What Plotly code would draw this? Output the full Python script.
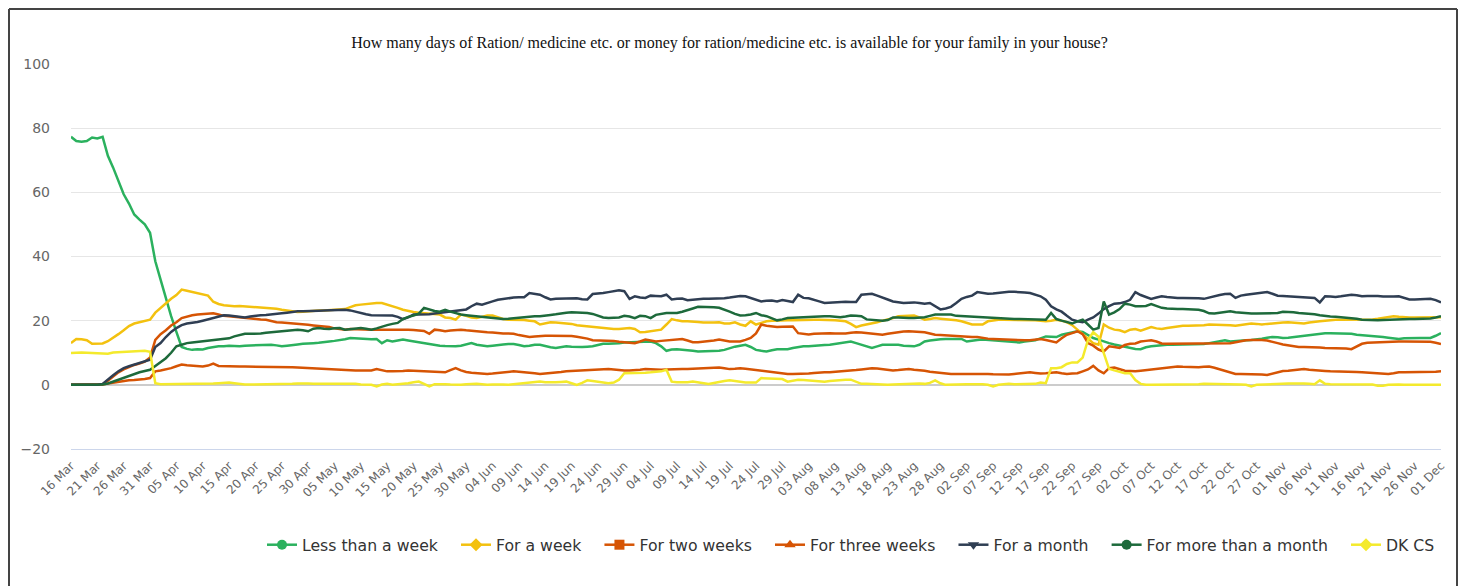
import plotly.graph_objs as go
import pandas as pd

# daily share of respondents (%), 16 Mar - 01 Dec
dates = pd.date_range('2020-03-16', '2020-12-01', freq='D')

less_than_week = [
    77.3, 76.0, 75.8, 76.0, 77.1, 76.8, 77.3, 71.4, 67.7, 63.5,
    59.4, 56.5, 53.1, 51.5, 50.0, 47.4, 38.5, 32.8, 27.0, 21.4,
    16.5, 11.8, 11.2, 10.9, 11.1, 11.0, 11.5, 11.8, 12.0, 12.0,
    12.2, 12.1, 12.0, 12.2, 12.3, 12.2, 12.3, 12.4, 12.5, 12.3,
    12.0, 12.2, 12.5, 12.6, 12.8, 13.0, 13.0, 13.1, 13.2, 13.5,
    13.7, 13.9, 14.2, 14.6, 14.5, 14.3, 14.3, 14.2, 14.3, 13.0,
    13.9, 13.5, 13.8, 14.1, 13.8, 13.5, 13.3, 13.0, 12.8, 12.5,
    12.2, 12.1, 12.0, 12.0, 12.2, 12.6, 13.0, 12.5, 12.2, 12.0,
    12.2, 12.5, 12.6, 12.7, 12.7, 12.4, 12.0, 12.2, 12.5, 12.5,
    12.0, 11.7, 11.5, 11.8, 12.0, 11.9, 11.8, 11.8, 11.9, 12.0,
    12.4, 12.8, 12.8, 12.8, 13.0, 13.2, 13.3, 13.4, 13.5, 13.5,
    13.5, 13.0, 12.0, 10.6, 11.0, 11.1, 11.0, 10.9, 10.6, 10.4,
    10.4, 10.5, 10.4, 10.6, 10.9, 11.5, 11.9, 12.2, 12.5, 11.8,
    10.9, 10.6, 10.4, 10.8, 11.1, 11.1, 11.1, 11.5, 11.8, 12.0,
    12.0, 12.2, 12.3, 12.4, 12.5, 12.7, 13.0, 13.2, 13.5, 13.0,
    12.5, 12.0, 11.5, 12.0, 12.5, 12.5, 12.5, 12.5, 12.2, 12.0,
    12.0, 12.5, 13.5, 13.8, 14.1, 14.2, 14.3, 14.3, 14.3, 14.3,
    13.5, 13.8, 14.0, 14.1, 14.0, 13.9, 13.8, 13.6, 13.4, 13.3,
    13.2, 13.5, 13.7, 13.9, 14.5, 15.1, 15.0, 14.9, 15.6, 16.0,
    16.3, 16.7, 16.5, 15.5, 14.6, 14.1, 13.5, 13.0, 12.6, 12.2,
    11.8, 11.5, 11.2, 11.1, 11.7, 12.0, 12.2, 12.3, 12.5, 12.5,
    12.5, 12.5, 12.5, 12.5, 12.5, 12.7, 13.0, 13.3, 13.6, 13.9,
    13.5, 13.7, 13.9, 13.9, 14.0, 14.1, 14.4, 14.7, 14.9, 14.8,
    14.6, 14.7, 14.9, 15.1, 15.3, 15.6, 15.8, 16.1, 16.1, 16.1,
    16.1, 16.0, 16.0, 15.9, 15.6, 15.5, 15.4, 15.3, 15.1, 14.9,
    14.7, 14.4, 14.3, 14.5, 14.6, 14.6, 14.6, 14.6, 14.6, 15.3, 16.1]

for_a_week = [
    13.0, 14.3, 14.2, 13.9, 12.8, 12.8, 12.9, 13.6, 14.6, 15.8,
    17.0, 18.3, 19.1, 19.5, 19.8, 20.3, 22.5, 24.0, 25.5, 26.8,
    28.0, 29.7, 29.3, 28.9, 28.6, 28.3, 27.8, 25.9, 25.2, 24.8,
    24.6, 24.5, 24.6, 24.5, 24.4, 24.3, 24.2, 24.1, 24.0, 23.7,
    23.4, 23.1, 22.9, 22.7, 22.8, 23.0, 23.1, 23.2, 23.2, 23.3,
    23.2, 23.3, 23.6, 24.2, 24.8, 25.0, 25.2, 25.4, 25.5, 25.5,
    25.0, 24.7, 24.0, 23.4, 23.0, 22.7, 22.5, 22.4, 22.3, 22.0,
    21.9, 21.0, 20.8, 20.3, 21.9, 21.5, 21.0, 20.8, 21.2, 21.6,
    21.6, 21.0, 20.5, 20.3, 20.3, 20.3, 20.2, 20.0, 19.8, 18.8,
    19.2, 19.5, 19.4, 19.3, 19.3, 19.0, 18.6, 18.4, 18.2, 18.0,
    17.8, 17.6, 17.4, 17.4, 17.4, 17.5, 17.7, 17.4, 16.4, 16.5,
    16.7, 16.9, 17.2, 18.8, 20.5, 20.1, 19.8, 19.8, 19.8, 19.6,
    19.4, 19.3, 19.4, 19.5, 19.1, 19.1, 19.5, 18.8, 18.4, 19.8,
    18.8, 19.3, 19.8, 20.0, 20.1, 20.1, 20.1, 20.1, 20.2, 20.3,
    20.3, 20.3, 20.3, 20.3, 20.3, 20.1, 20.0, 19.8, 19.0, 18.0,
    18.5, 18.8, 19.2, 19.5, 20.0, 20.3, 20.8, 21.4, 21.5, 21.6,
    21.6, 21.0, 20.3, 20.5, 20.8, 20.6, 20.5, 20.3, 20.1, 19.8,
    19.2, 18.8, 18.8, 18.8, 19.8, 20.1, 20.3, 20.3, 20.3, 20.3,
    20.3, 20.2, 20.1, 20.1, 20.0, 19.8, 20.0, 20.3, 20.0, 19.5,
    18.6, 17.2, 16.0, 14.5, 13.0, 12.5, 18.8, 17.8, 17.2, 17.0,
    16.4, 17.2, 17.4, 16.9, 17.5, 18.0, 17.6, 17.4, 17.7, 18.0,
    18.2, 18.4, 18.4, 18.4, 18.4, 18.6, 18.8, 18.8, 18.8, 18.8,
    18.6, 18.4, 18.6, 18.9, 19.1, 19.0, 18.8, 19.0, 19.2, 19.3,
    19.4, 19.5, 19.4, 19.2, 19.1, 19.4, 19.7, 19.8, 20.0, 20.2,
    20.3, 20.3, 20.3, 20.4, 20.5, 20.4, 20.3, 20.4, 20.6, 20.8,
    21.0, 21.4, 21.2, 21.0, 21.0, 21.0, 21.0, 21.0, 21.0, 21.1, 21.1]

two_weeks = [
    0.0, 0.0, 0.0, 0.0, 0.0, 0.0, 0.2, 1.3, 2.6, 3.9,
    4.8, 5.6, 6.2, 6.6, 7.2, 8.5, 14.0, 15.8, 17.0, 18.5,
    19.5, 20.8, 21.3, 21.7, 21.9, 22.0, 22.3, 22.3, 21.9, 21.5,
    21.4, 21.2, 21.0, 20.9, 20.8, 20.6, 20.4, 20.3, 19.9, 19.5,
    19.4, 19.3, 19.2, 19.1, 18.8, 18.7, 18.5, 18.4, 18.2, 18.0,
    17.6, 17.3, 17.2, 17.4, 17.3, 17.2, 17.2, 17.2, 17.2, 17.2,
    17.2, 17.3, 17.4, 17.3, 17.2, 17.1, 17.0, 16.8, 15.9, 17.2,
    17.0, 16.7, 16.9, 17.0, 17.2, 17.0, 16.8, 16.7, 16.5, 16.4,
    16.3, 16.1, 16.0, 16.0, 15.9, 15.5, 15.2, 14.9, 15.1, 15.3,
    15.3, 15.3, 15.3, 15.3, 15.3, 15.2, 15.0, 14.8, 14.4, 13.9,
    13.9, 13.9, 13.9, 13.7, 13.4, 13.2, 13.1, 13.0, 13.5, 14.1,
    13.8, 13.5, 13.7, 13.9, 14.0, 14.2, 14.3, 13.8, 13.3, 13.3,
    13.4, 13.5, 13.8, 14.1, 13.8, 13.5, 13.5, 13.5, 14.0, 14.6,
    16.0, 18.8, 18.4, 18.2, 18.0, 18.1, 18.2, 18.2, 16.1, 15.8,
    15.7, 15.9, 16.0, 16.1, 16.1, 16.0, 15.9, 16.0, 16.2, 16.4,
    16.3, 16.1, 15.9, 15.7, 15.6, 15.9, 16.2, 16.4, 16.6, 16.7,
    16.6, 16.5, 16.4, 16.0, 15.6, 15.5, 15.4, 15.3, 15.1, 14.9,
    14.9, 14.9, 14.9, 14.6, 14.4, 14.3, 14.2, 14.1, 14.0, 13.9,
    13.9, 13.9, 13.9, 14.0, 14.3, 14.0, 13.5, 13.2, 14.5, 15.6,
    16.1, 16.7, 15.8, 13.0, 12.2, 11.0, 10.4, 12.0, 11.8, 11.5,
    12.4, 12.8, 12.9, 13.5, 13.7, 13.9, 13.5, 12.9, 12.8, 12.8,
    12.8, 12.8, 12.8, 12.8, 12.9, 13.0, 12.9, 12.8, 12.9, 13.0,
    13.0, 13.3, 13.7, 13.9, 14.0, 14.1, 14.0, 13.8, 13.5, 13.0,
    12.6, 12.3, 12.0, 11.8, 11.8, 11.8, 11.7, 11.6, 11.5, 11.5,
    11.5, 11.5, 11.3, 11.1, 12.0, 12.8, 13.1, 13.2, 13.2, 13.3,
    13.5, 13.5, 13.5, 13.5, 13.5, 13.5, 13.5, 13.5, 13.4, 13.1, 12.7]

three_weeks = [
    0.0, 0.0, 0.0, 0.0, 0.0, 0.0, 0.1, 0.4, 0.7, 1.0,
    1.2, 1.4, 1.5, 1.6, 1.8, 2.1, 4.2, 4.5, 4.8, 5.2,
    5.8, 6.3, 6.1, 5.9, 5.8, 5.7, 6.0, 6.6, 5.9, 5.8,
    5.7, 5.7, 5.7, 5.7, 5.7, 5.7, 5.6, 5.6, 5.5, 5.5,
    5.5, 5.5, 5.5, 5.4, 5.3, 5.2, 5.2, 5.0, 4.9, 4.8,
    4.7, 4.6, 4.6, 4.5, 4.5, 4.5, 4.5, 4.5, 4.9, 4.5,
    4.2, 4.2, 4.2, 4.3, 4.5, 4.4, 4.2, 4.1, 4.0, 3.9,
    3.9, 3.9, 4.6, 5.2, 4.5, 4.0, 3.8, 3.6, 3.5, 3.4,
    3.5, 3.7, 3.9, 4.0, 4.2, 4.1, 4.0, 3.9, 3.6, 3.4,
    3.5, 3.8, 3.9, 4.0, 4.2, 4.3, 4.4, 4.5, 4.6, 4.7,
    4.7, 4.8, 4.9, 4.8, 4.6, 4.5, 4.5, 4.5, 4.7, 4.9,
    4.8, 4.7, 4.7, 4.8, 4.9, 4.9, 4.9, 4.9, 5.0, 5.2,
    5.3, 5.4, 5.5, 5.4, 5.2, 4.9, 5.0, 5.2, 5.0, 4.8,
    4.5, 4.4, 4.2, 3.9, 3.6, 3.5, 3.4, 3.4, 3.4, 3.4,
    3.5, 3.7, 3.9, 3.9, 3.9, 4.0, 4.1, 4.2, 4.4, 4.6,
    4.8, 5.0, 5.2, 5.1, 4.9, 4.7, 4.5, 4.6, 4.8, 4.9,
    4.7, 4.6, 4.4, 4.1, 3.9, 3.7, 3.5, 3.4, 3.4, 3.4,
    3.4, 3.5, 3.6, 3.5, 3.4, 3.3, 3.2, 3.1, 3.2, 3.4,
    3.5, 3.7, 3.9, 3.7, 3.5, 3.6, 3.8, 3.9, 3.6, 3.4,
    3.5, 3.6, 4.2, 4.8, 5.9, 4.5, 3.6, 5.2, 5.4, 4.8,
    4.4, 4.3, 4.2, 4.4, 4.6, 4.7, 4.9, 5.2, 5.4, 5.6,
    5.7, 5.6, 5.5, 5.5, 5.5, 5.6, 5.7, 5.3, 4.8, 4.3,
    3.8, 3.4, 3.4, 3.4, 3.4, 3.3, 3.2, 3.1, 3.5, 4.1,
    4.3, 4.4, 4.5, 4.7, 4.9, 4.7, 4.5, 4.4, 4.3, 4.2,
    4.2, 4.2, 4.2, 4.1, 4.0, 3.9, 3.8, 3.6, 3.5, 3.4,
    3.4, 3.6, 3.9, 3.9, 3.9, 3.9, 3.9, 3.9, 4.0, 4.1, 4.2]

a_month = [
    0.0, 0.0, 0.0, 0.0, 0.0, 0.0, 0.3, 1.8, 3.0, 4.2,
    5.2, 5.8, 6.3, 6.7, 7.1, 7.8, 11.8, 13.0, 14.9, 16.5,
    17.7, 18.6, 19.1, 19.3, 19.6, 20.0, 20.4, 20.8, 21.4, 21.7,
    21.6, 21.4, 21.2, 21.0, 21.3, 21.6, 21.7, 21.8, 21.9, 22.1,
    22.3, 22.5, 22.8, 22.9, 22.9, 22.9, 23.0, 23.1, 23.2, 23.3,
    23.4, 23.4, 23.4, 23.2, 22.8, 22.2, 22.0, 21.7, 21.7, 21.8,
    21.8, 21.6, 21.2, 20.5, 21.0, 21.9, 21.9, 21.9, 22.0, 22.2,
    22.4, 22.6, 22.8, 23.0, 23.2, 23.5, 24.5, 25.3, 25.0, 25.6,
    26.0, 26.5, 26.8, 27.0, 27.2, 27.3, 27.3, 28.6, 28.3, 28.1,
    27.3, 26.6, 26.8, 26.9, 27.0, 27.1, 27.0, 26.7, 26.6, 28.3,
    28.4, 28.6, 28.9, 29.2, 29.5, 29.2, 26.8, 27.6, 27.2, 27.1,
    27.8, 27.7, 27.6, 28.1, 26.6, 26.8, 26.9, 26.4, 26.6, 26.8,
    26.8, 26.8, 26.8, 26.9, 27.0, 27.2, 27.5, 27.7, 27.6, 27.1,
    26.6, 26.0, 26.2, 26.3, 26.0, 26.4, 26.1, 25.8, 28.1, 27.1,
    27.0, 26.6, 26.0, 25.5, 25.6, 25.8, 26.0, 25.9, 25.8, 25.8,
    28.1, 28.2, 28.4, 27.8, 27.1, 26.6, 26.0, 25.8, 25.5, 25.6,
    25.7, 25.5, 25.3, 25.5, 24.5, 23.5, 23.8, 24.3, 25.5, 26.8,
    27.4, 27.8, 28.9, 28.6, 28.4, 28.5, 28.7, 28.9, 29.0, 29.0,
    29.0, 28.8, 28.6, 28.2, 27.6, 26.5, 24.5, 23.5, 22.8, 21.5,
    20.3, 19.8, 19.5, 20.3, 21.0, 22.2, 23.6, 24.5, 25.3, 25.4,
    25.8, 26.5, 28.9, 28.0, 27.4, 26.8, 27.2, 27.6, 27.4, 27.2,
    27.1, 27.1, 27.1, 27.0, 27.0, 26.8, 27.2, 27.8, 28.0, 28.3,
    28.4, 27.1, 27.8, 28.1, 28.3, 28.4, 28.6, 28.9, 28.4, 27.8,
    27.7, 27.6, 27.5, 27.3, 27.1, 27.1, 27.1, 25.7, 27.6, 27.5,
    27.4, 27.6, 27.9, 28.1, 27.9, 27.6, 27.7, 27.8, 27.7, 27.5,
    27.4, 27.5, 27.6, 27.2, 26.6, 26.6, 26.6, 26.7, 26.8, 26.4, 25.7]

more_than_month = [
    0.0, 0.0, 0.0, 0.0, 0.0, 0.0, 0.1, 0.4, 1.0, 1.6,
    2.3, 2.8, 3.4, 3.9, 4.3, 4.7, 5.9, 7.0, 8.3, 10.0,
    12.0, 12.5, 13.0, 13.2, 13.4, 13.6, 13.8, 14.1, 14.2, 14.3,
    14.5, 15.1, 15.5, 15.9, 15.9, 15.9, 16.0, 16.2, 16.4, 16.5,
    16.7, 16.8, 17.0, 17.2, 17.0, 16.7, 17.5, 17.7, 17.5, 17.4,
    17.6, 17.7, 17.2, 17.4, 17.6, 17.7, 17.5, 17.2, 17.6, 18.2,
    18.6, 19.0, 19.3, 20.5, 21.2, 21.6, 22.2, 24.0, 23.4, 23.0,
    22.8, 23.4, 22.8, 22.3, 21.9, 21.7, 21.5, 21.4, 21.2, 20.9,
    20.7, 20.5, 20.5, 20.6, 20.8, 21.0, 21.2, 21.4, 21.4, 21.4,
    21.5, 21.8, 22.0, 22.3, 22.5, 22.6, 22.6, 22.6, 22.4, 22.1,
    21.6, 21.0, 20.8, 20.8, 21.0, 21.5, 21.3, 20.8, 21.5, 21.4,
    20.8, 21.8, 22.2, 22.4, 22.4, 22.4, 22.8, 23.2, 23.8, 24.3,
    24.3, 24.3, 24.2, 24.0, 23.5, 22.8, 22.1, 21.6, 21.7, 21.9,
    22.4, 21.7, 21.4, 20.8, 20.1, 20.4, 20.8, 20.9, 21.0, 21.1,
    21.2, 21.4, 21.4, 21.4, 21.4, 21.3, 21.1, 21.3, 21.6, 21.5,
    21.4, 20.4, 20.2, 20.1, 20.0, 20.2, 21.0, 21.0, 20.8, 20.8,
    20.8, 20.9, 21.1, 21.5, 21.9, 21.9, 21.9, 21.9, 21.5, 21.4,
    21.4, 21.3, 21.1, 20.9, 20.8, 20.8, 20.7, 20.6, 20.5, 20.5,
    20.5, 20.5, 20.4, 20.3, 20.3, 20.3, 22.4, 20.5, 20.0, 19.6,
    19.1, 19.8, 20.3, 18.8, 17.2, 17.7, 26.0, 21.9, 22.6, 23.6,
    25.3, 25.0, 24.5, 24.5, 24.6, 25.2, 24.6, 24.0, 23.8, 23.6,
    23.6, 23.6, 23.6, 23.5, 23.4, 23.0, 22.3, 22.2, 22.4, 22.6,
    22.9, 22.6, 22.4, 22.3, 22.2, 22.2, 22.2, 22.2, 22.3, 22.4,
    22.8, 22.8, 22.6, 22.4, 22.3, 22.2, 22.0, 21.7, 21.4, 21.3,
    21.2, 21.1, 21.0, 20.8, 20.6, 20.3, 20.2, 20.1, 20.1, 20.2,
    20.3, 20.3, 20.3, 20.4, 20.5, 20.5, 20.5, 20.5, 20.7, 21.0, 21.4]

dk_cs = [
    9.9, 10.1, 10.1, 10.0, 9.9, 9.9, 9.8, 9.7, 10.1, 10.2,
    10.4, 10.5, 10.6, 10.7, 10.6, 10.3, 0.5, 0.2, 0.2, 0.2,
    0.2, 0.2, 0.2, 0.2, 0.3, 0.3, 0.3, 0.4, 0.5, 0.6,
    0.7, 0.5, 0.2, 0.1, 0.1, 0.1, 0.1, 0.2, 0.2, 0.2,
    0.2, 0.3, 0.3, 0.4, 0.5, 0.4, 0.3, 0.3, 0.3, 0.3,
    0.3, 0.4, 0.5, 0.5, 0.3, 0.1, 0.1, 0.0, -0.5, 0.1,
    0.3, 0.0, 0.2, 0.3, 0.5, 0.8, 1.0, 0.3, -0.5, 0.2,
    0.3, 0.2, 0.1, 0.0, 0.0, 0.2, 0.3, 0.3, 0.2, 0.0,
    0.1, 0.2, 0.1, 0.0, 0.2, 0.3, 0.5, 0.7, 0.9, 1.0,
    0.8, 0.7, 0.8, 0.9, 1.0, 0.5, 0.0, 0.6, 1.4, 1.2,
    1.0, 0.8, 0.5, 0.7, 1.6, 3.6, 3.6, 3.6, 3.7, 3.8,
    3.9, 4.0, 4.2, 4.7, 1.0, 0.8, 0.7, 0.8, 1.0, 0.7,
    0.4, 0.3, 0.6, 1.0, 1.2, 1.4, 1.2, 0.8, 0.7, 0.7,
    0.7, 2.1, 2.0, 1.8, 1.8, 1.8, 1.0, 1.3, 1.6, 1.5,
    1.4, 1.3, 1.1, 1.0, 1.2, 1.4, 1.5, 1.6, 1.6, 1.0,
    0.3, 0.3, 0.2, 0.2, 0.1, 0.0, 0.1, 0.2, 0.3, 0.4,
    0.5, 0.4, 0.3, 0.6, 1.4, 0.5, 0.0, 0.1, 0.2, 0.3,
    0.2, 0.2, 0.3, 0.2, 0.0, -0.5, 0.0, 0.2, 0.3, 0.2,
    0.2, 0.3, 0.2, 0.3, 0.7, 0.5, 5.2, 5.2, 5.5, 6.5,
    7.0, 7.0, 8.5, 14.0, 16.4, 15.0, 9.9, 5.0, 4.5, 4.0,
    3.6, 3.6, 1.5, 0.3, 0.0, 0.0, 0.0, 0.1, 0.0, 0.1,
    0.1, 0.2, 0.2, 0.2, 0.2, 0.3, 0.3, 0.2, 0.3, 0.3,
    0.2, 0.2, 0.1, 0.0, -0.5, 0.0, 0.1, 0.1, 0.2, 0.3,
    0.3, 0.4, 0.4, 0.5, 0.4, 0.3, 0.2, 1.4, 0.3, 0.2,
    0.2, 0.2, 0.2, 0.2, 0.3, 0.3, 0.2, 0.1, -0.3, -0.3,
    0.0, 0.1, 0.1, 0.0, 0.0, 0.0, 0.1, 0.1, 0.0, 0.0, 0.0]

series = [
    ('Less than a week', less_than_week, '#2bb15e', 'circle'),
    ('For a week', for_a_week, '#f3c10f', 'diamond'),
    ('For two weeks', two_weeks, '#d65404', 'square'),
    ('For three weeks', three_weeks, '#d65404', 'triangle-up'),
    ('For a month', a_month, '#2f3e53', 'triangle-down'),
    ('For more than a month', more_than_month, '#1d6a3b', 'circle'),
    ('DK CS', dk_cs, '#f4ea2c', 'diamond'),
]

# the page body has an 8px margin, so the figure is a bit smaller than the window
OFF = 8
W, H = 1466 - OFF, 586 - OFF
# plot area on screen: x 71..1441, y 64..449
L, R, T, B = 71 - OFF, W - (1441 - OFF), 64 - OFF, H - (449 - OFF)
pw, ph = W - L - R, H - T - B


def px(x):
    # screen x -> paper x
    return (x - OFF - L) / pw


def py(y):
    # screen y -> paper y
    return (H - B - (y - OFF)) / ph


fig = go.Figure()

pad = '\u00a0\u00a0\u2009'
for name, vals, col, sym in series:
    fig.add_trace(go.Scatter(x=dates, y=vals, mode='lines', name=name,
                             legendgroup=name, showlegend=False,
                             line=dict(color=col, width=2.5)))
    # legend entry with the marker symbol
    fig.add_trace(go.Scatter(x=[None], y=[None], mode='lines+markers', name=name + pad,
                             legendgroup=name,
                             line=dict(color=col, width=2.5),
                             marker=dict(color=col, symbol=sym, size=10)))

frame = dict(type='line', xref='paper', yref='paper',
             line=dict(color='#444444', width=2))
fig.update_layout(shapes=[
    dict(frame, x0=px(9), x1=px(9), y0=py(9), y1=py(620)),
    dict(frame, x0=px(9), x1=px(1457), y0=py(9), y1=py(9)),
    dict(frame, x0=px(1457), x1=px(1457), y0=py(9), y1=py(620)),
])

fig.update_layout(
    width=W, height=H,
    margin=dict(l=L, r=R, t=T, b=B),
    paper_bgcolor='white', plot_bgcolor='white',
    font=dict(family='DejaVu Sans', color='#666666'),
    title=dict(text='How many days of Ration/ medicine etc. or money for ration/medicine etc. '
                    'is available for your family in your house?',
               x=(729.5 - OFF) / W, xanchor='center', y=1 - (42 - OFF) / H, yanchor='middle',
               font=dict(family='Liberation Serif', size=16, color='#111111')),
    xaxis=dict(type='date', range=[dates[0], dates[-1]],
               tick0=dates[0], dtick=5 * 86400000, tickformat='%d %b',
               tickangle=-45, tickfont=dict(size=12, color='#666666'),
               showgrid=False, zeroline=False,
               showline=True, linecolor='#ccd6eb', linewidth=1,
               ticks='', ticklabelstandoff=4),
    yaxis=dict(range=[-20, 100], tickvals=[-20, 0, 20, 40, 60, 80, 100],
               tickfont=dict(size=14, color='#666666'),
               showgrid=True, gridcolor='#e6e6e6', gridwidth=1,
               zeroline=True, zerolinecolor='#cccccc', zerolinewidth=2,
               ticks='', ticklabelstandoff=20),
    legend=dict(orientation='h', x=px(262), xanchor='left',
                y=py(545), yanchor='middle',
                font=dict(family='DejaVu Sans', size=15.7, color='#333333'),
                itemwidth=30, tracegroupgap=0),
    hovermode='x',
)

fig.write_html("out.html")
